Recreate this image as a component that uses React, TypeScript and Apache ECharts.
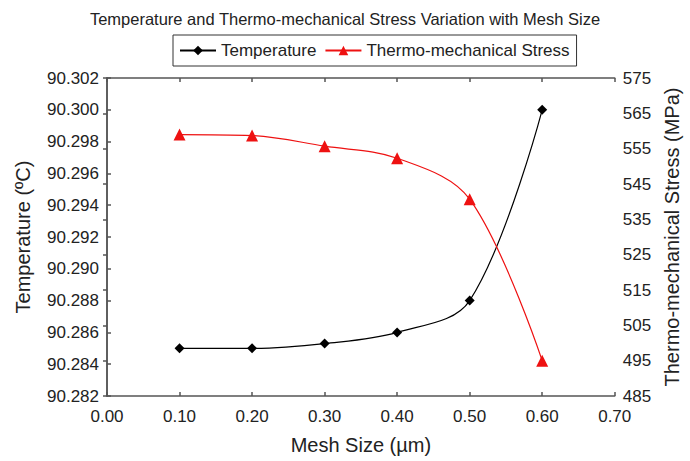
import React, { useEffect, useRef } from "react";
import * as echarts from "echarts";

// Mesh sizes (µm) and the two measured quantities at each size
const meshSizes = [0.1, 0.2, 0.3, 0.4, 0.5, 0.6];
const temperature = [90.285, 90.285, 90.2853, 90.286, 90.288, 90.3];
const stress = [559, 558.7, 555.7, 552.3, 540.7, 495];

const FONT = "'Liberation Sans', Arial, sans-serif";
const AXIS_COLOR = "#555";
const TEXT_COLOR = "#222";

export default function App() {
  const ref = useRef<HTMLDivElement>(null);

  useEffect(() => {
    if (!ref.current) return;
    const chart = echarts.init(ref.current, null, { renderer: "svg" });

    const axisLine = { show: true, lineStyle: { color: AXIS_COLOR, width: 1.5 } };
    const axisTick = { show: true, inside: true, length: 4, lineStyle: { color: AXIS_COLOR, width: 1.5 } };
    const axisLabel = { color: TEXT_COLOR, fontSize: 17, fontFamily: FONT };
    const nameStyle = { color: TEXT_COLOR, fontSize: 20, fontFamily: FONT };

    chart.setOption({
      animation: false,
      backgroundColor: "#fff",
      textStyle: { fontFamily: FONT },
      title: {
        text: "Temperature and Thermo-mechanical Stress Variation with Mesh Size",
        left: "center",
        top: 5,
        textStyle: { color: TEXT_COLOR, fontSize: 16.5, fontWeight: "normal", fontFamily: FONT },
      },
      legend: {
        top: 35,
        left: 173,
        data: ["Temperature", "Thermo-mechanical Stress"],
        itemWidth: 36,
        itemHeight: 12,
        itemGap: 8,
        padding: [7, 7, 7, 6],
        borderColor: "#333",
        borderWidth: 1,
        textStyle: { color: TEXT_COLOR, fontSize: 17, fontFamily: FONT },
      },
      grid: { left: 107, right: 74, top: 78, bottom: 65, containLabel: false },
      xAxis: [
        {
          type: "value",
          min: 0,
          max: 0.7,
          interval: 0.1,
          position: "bottom",
          name: "Mesh Size (µm)",
          nameLocation: "middle",
          nameGap: 39,
          nameTextStyle: nameStyle,
          axisLine,
          axisTick,
          axisLabel: { ...axisLabel, margin: 12, formatter: (v: number) => v.toFixed(2) },
          splitLine: { show: false },
        },
        {
          type: "value",
          min: 0,
          max: 0.7,
          interval: 0.1,
          position: "top",
          axisLine,
          axisTick,
          axisLabel: { show: false },
          splitLine: { show: false },
        },
      ],
      yAxis: [
        {
          type: "value",
          min: 90.282,
          max: 90.302,
          interval: 0.002,
          position: "left",
          name: "Temperature (ºC)",
          nameLocation: "middle",
          nameGap: 74,
          nameRotate: 90,
          nameTextStyle: nameStyle,
          axisLine,
          axisTick,
          axisLabel: { ...axisLabel, margin: 8, formatter: (v: number) => v.toFixed(3) },
          splitLine: { show: false },
        },
        {
          type: "value",
          min: 485,
          max: 575,
          interval: 10,
          position: "right",
          name: "Thermo-mechanical Stress (MPa)",
          nameLocation: "middle",
          nameGap: 46,
          nameRotate: 90,
          nameTextStyle: nameStyle,
          axisLine,
          axisTick,
          axisLabel: { ...axisLabel, margin: 8 },
          splitLine: { show: false },
        },
      ],
      series: [
        {
          name: "Temperature",
          type: "line",
          xAxisIndex: 0,
          yAxisIndex: 0,
          data: meshSizes.map((x, i) => [x, temperature[i]]),
          smooth: 0.35,
          symbol: "diamond",
          symbolSize: 10,
          itemStyle: { color: "#000" },
          lineStyle: { color: "#000", width: 1.2 },
        },
        {
          name: "Thermo-mechanical Stress",
          type: "line",
          xAxisIndex: 0,
          yAxisIndex: 1,
          data: meshSizes.map((x, i) => [x, stress[i]]),
          smooth: 0.35,
          symbol: "triangle",
          symbolSize: 12,
          itemStyle: { color: "#ee1111" },
          lineStyle: { color: "#ee1111", width: 1.2 },
        },
      ],
    });

    return () => chart.dispose();
  }, []);

  return <div ref={ref} style={{ width: 690, height: 461, position: "absolute", left: 0, top: 0 }} />;
}
